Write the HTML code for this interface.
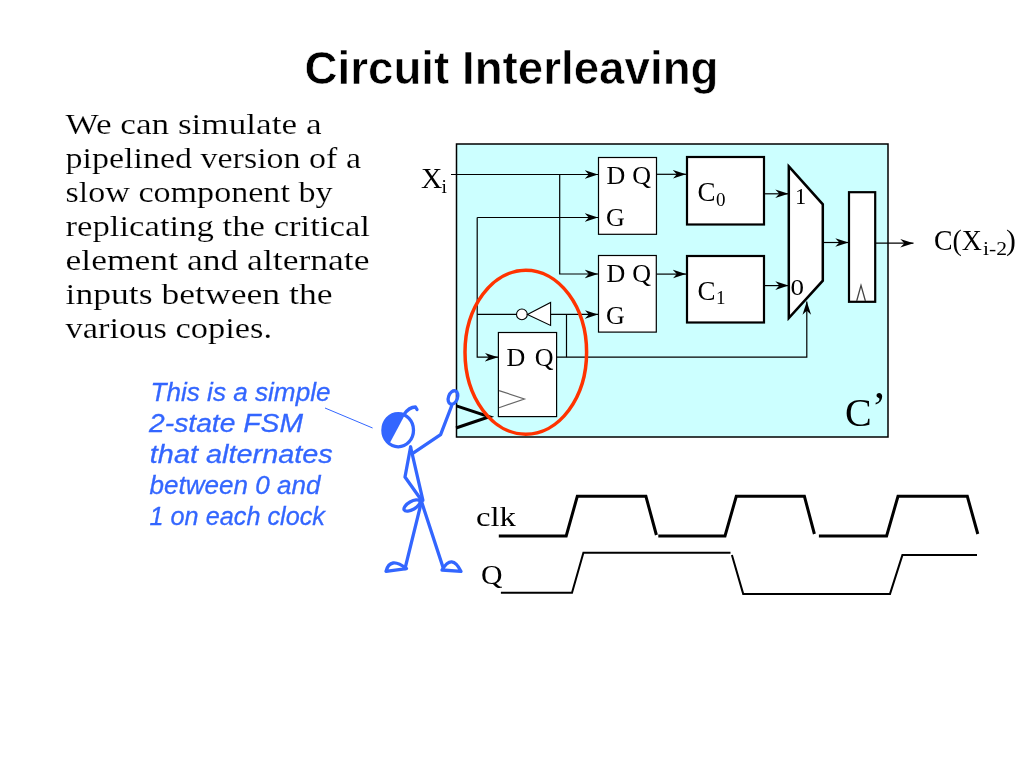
<!DOCTYPE html>
<html><head><meta charset="utf-8">
<style>
html,body{margin:0;padding:0;background:#fff;}
body{width:1024px;height:768px;overflow:hidden;position:relative;}
svg{position:absolute;left:0;top:0;will-change:transform;}
</style></head>
<body>
<svg width="1024" height="768" viewBox="0 0 1024 768">
<defs>
<marker id="ah" markerWidth="14" markerHeight="10" refX="13.2" refY="5" orient="auto" markerUnits="userSpaceOnUse">
<path d="M0,0.7 L13.2,5 L0,9.3 L4,5 Z" fill="#000"/>
</marker>
</defs>
<!-- Title -->
<text x="511.5" y="83.6" stroke="#fff" stroke-width="0.6" font-family="Liberation Sans" font-weight="bold" font-size="45.5" text-anchor="middle" textLength="414" lengthAdjust="spacingAndGlyphs">Circuit Interleaving</text>
<!-- paragraph -->
<g font-family="Liberation Serif" font-size="29" fill="#000" stroke="#fff" stroke-width="0.15">
<text x="65.5" y="134" textLength="256" lengthAdjust="spacingAndGlyphs">We can simulate a</text>
<text x="65.5" y="168" textLength="295.5" lengthAdjust="spacingAndGlyphs">pipelined version of a</text>
<text x="65.5" y="202" textLength="267" lengthAdjust="spacingAndGlyphs">slow component by</text>
<text x="65.5" y="236" textLength="304.5" lengthAdjust="spacingAndGlyphs">replicating the critical</text>
<text x="65.5" y="270" textLength="304" lengthAdjust="spacingAndGlyphs">element and alternate</text>
<text x="65.5" y="304" textLength="267" lengthAdjust="spacingAndGlyphs">inputs between the</text>
<text x="65.5" y="338" textLength="206.5" lengthAdjust="spacingAndGlyphs">various copies.</text>
</g>
<!-- cyan box -->
<rect x="456.5" y="144" width="431.5" height="293" fill="#CCFFFF" stroke="#000" stroke-width="1.5"/>

<g fill="none" stroke="#000" stroke-width="1.2">
<!-- Xi line to latch1 D -->
<path d="M451,174.5 H598" marker-end="url(#ah)"/>
<!-- branch down to latch2 D -->
<path d="M559.7,174.5 V274 H598" marker-end="url(#ah)"/>
<!-- G line latch1 -->
<path d="M477.2,217.5 H598" marker-end="url(#ah)"/>
<!-- vertical down to FSM D -->
<path d="M477.2,217.5 V357.2 H498" marker-end="url(#ah)"/>
<!-- to inverter -->
<path d="M477.2,314.4 H516.4"/>
<!-- inverter out to latch2 G -->
<path d="M550.6,314.4 H598" marker-end="url(#ah)"/>
<path d="M566.5,314.4 V357.2"/>
<!-- FSM Q line to mux select -->
<path d="M556.6,357.2 H806.8 V301.5" marker-end="url(#ah)"/>
<!-- Q latch -> C -->
<path d="M656.4,174.3 H686" marker-end="url(#ah)"/>
<path d="M656.4,274.1 H686" marker-end="url(#ah)"/>
<!-- C -> mux -->
<path d="M765,193.8 H788.5" marker-end="url(#ah)"/>
<path d="M765,285.6 H788.5" marker-end="url(#ah)"/>
<!-- mux -> reg -->
<path d="M823,242.5 H848.5" marker-end="url(#ah)"/>
<!-- reg out -->
<path d="M875.5,243.2 H913.5" marker-end="url(#ah)"/>
</g>

<!-- latches -->
<g fill="#fff" stroke="#000" stroke-width="1.2">
<rect x="598.5" y="157.5" width="58" height="76.8"/>
<rect x="598.5" y="255.5" width="57.8" height="76.6"/>
<rect x="498.4" y="332.5" width="58.2" height="84.1"/>
</g>
<g fill="#fff" stroke="#000" stroke-width="2.2">
<rect x="687" y="157" width="77" height="67.5"/>
<rect x="687" y="256" width="77" height="66.5"/>
<path d="M788.8,166.4 L822.8,204.3 L822.8,280.7 L788.8,318.1 Z" stroke-width="2.5"/>
<rect x="849" y="192.2" width="26.2" height="109.6"/>
</g>
<!-- inverter -->
<circle cx="521.9" cy="314.4" r="5.4" fill="#fff" stroke="#000" stroke-width="1.1"/>
<path d="M527.4,314.4 L550.6,302.5 L550.6,325.5 Z" fill="#fff" stroke="#000" stroke-width="1.1"/>
<!-- clock triangles -->
<path d="M499,390.6 L524.4,399 L499,407.8" fill="none" stroke="#666" stroke-width="1.2"/>
<path d="M856.7,301 L861,285.4 L865.4,301" fill="none" stroke="#444" stroke-width="1.3"/>
<path d="M456.4,405.9 L489.4,416.7 L456,428" fill="none" stroke="#000" stroke-width="3"/>

<!-- labels -->
<g font-family="Liberation Serif" fill="#000">
<text x="606.5" y="183.6" font-size="26" textLength="44.5" lengthAdjust="spacing">D Q</text>
<text x="606" y="226.2" font-size="26">G</text>
<text x="606.5" y="281.8" font-size="26" textLength="44.5" lengthAdjust="spacing">D Q</text>
<text x="606" y="324.3" font-size="26">G</text>
<text x="506.5" y="365.6" font-size="26" textLength="47" lengthAdjust="spacing">D Q</text>
<text x="697.5" y="200.8" font-size="27">C</text>
<text x="716" y="206" font-size="19">0</text>
<text x="697.5" y="299.5" font-size="27">C</text>
<text x="716" y="304" font-size="19">1</text>
<text x="795" y="203.9" font-size="22.5">1</text>
<text x="790.5" y="294.7" font-size="22.5" textLength="13.5" lengthAdjust="spacingAndGlyphs">0</text>
<text x="421" y="187.5" font-size="29.5">X</text>
<text x="441.5" y="192.5" font-size="19.5">i</text>
<text x="934" y="249.8" font-size="29.5" textLength="48" lengthAdjust="spacingAndGlyphs">C(X</text>
<text x="983" y="255.3" font-size="19" textLength="24" lengthAdjust="spacingAndGlyphs">i-2</text>
<text x="1006" y="249.8" font-size="29.5">)</text>
<text x="845" y="426" font-size="40">C<tspan dy="-4" font-size="44">’</tspan></text>
</g>
<!-- red ellipse -->
<ellipse cx="525.8" cy="352.3" rx="60.8" ry="82" fill="none" stroke="#FF3300" stroke-width="3.5"/>

<!-- blue annotation -->
<g font-family="Liberation Sans" font-style="italic" font-size="26.5" fill="#3366FF" stroke="#3366FF" stroke-width="0.3">
<text x="150.5" y="401.2" textLength="180" lengthAdjust="spacingAndGlyphs">This is a simple</text>
<text x="149" y="432.3" textLength="154" lengthAdjust="spacingAndGlyphs">2-state FSM</text>
<text x="149.8" y="462.7" textLength="183" lengthAdjust="spacingAndGlyphs">that alternates</text>
<text x="149.5" y="493.7" textLength="171" lengthAdjust="spacingAndGlyphs">between 0 and</text>
<text x="149.5" y="524.6" textLength="175.5" lengthAdjust="spacingAndGlyphs">1 on each clock</text>
</g>
<path d="M325,408 L372.6,428" stroke="#3366FF" stroke-width="1" fill="none"/>
<!-- stick figure -->
<g fill="none" stroke="#3366FF" stroke-width="3.3" stroke-linecap="round" stroke-linejoin="round">
<ellipse cx="398.2" cy="430.2" rx="15.3" ry="16.6"/>
<path d="M404,414.5 Q409,407 415.5,407 L417,409.5"/>
<ellipse cx="412" cy="505.5" rx="9" ry="4" transform="rotate(-30 412 505.5)"/>
<ellipse cx="453" cy="397.5" rx="4.5" ry="7" transform="rotate(20 453 397.5)"/>
<path d="M410.6,447 L422.9,500.3"/>
<path d="M410.6,447 L405,477 L421.5,500.3"/>
<path d="M412,453.8 L440.6,434.7 L451.6,406"/>
<path d="M421.5,501.6 L405,568.6"/>
<path d="M421.5,501.6 L443.4,568.6"/>
<path d="M386,571.4 Q390,556 406.5,568.6 Z"/>
<path d="M442,570 Q452,553 461,571.4 Z"/>
</g>
<path d="M404.67,415.16 L389.42,443.8 A15.3,16.6 0 0 1 404.67,415.16 Z" fill="#3366FF"/>

<!-- waveforms -->
<g font-family="Liberation Serif" fill="#000">
<text x="476" y="526" font-size="28" textLength="40" lengthAdjust="spacingAndGlyphs">clk</text>
<text x="481" y="584" font-size="27" textLength="21.5" lengthAdjust="spacingAndGlyphs">Q</text>
</g>
<g fill="none" stroke="#000" stroke-width="3">
<path d="M498.8,536 H566.2 L577.3,496.3 H645.9 L656.4,535 M658.3,536 H725 L736.3,496.3 H804.4 L814.4,534 M818.9,536 H886.6 L898,496.3 H967.3 L977.8,534"/>
</g>
<g fill="none" stroke="#000" stroke-width="2">
<path d="M500.9,592.8 H572 L583.4,552.8 H730.5 M731.9,555 L743.2,593.9 H890 L902.4,555.1 H977"/>
</g>
</svg>
</body></html>
